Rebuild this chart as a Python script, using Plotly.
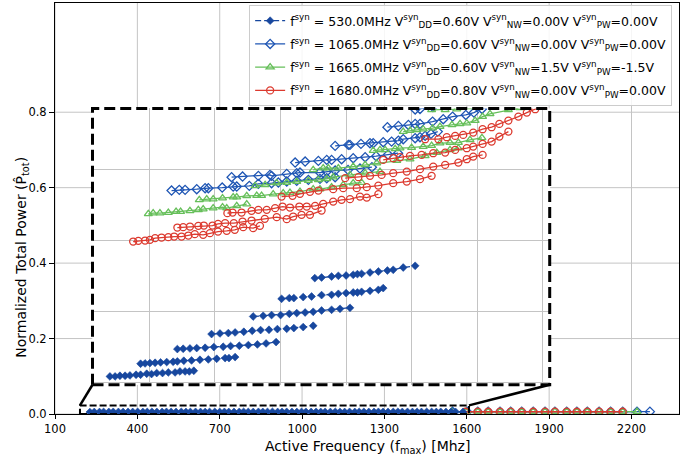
import plotly.graph_objects as go

# ---------------- data ----------------
legend_names = [
    "f<sup>syn</sup> = 530.0MHz V<sup>syn</sup><sub>DD</sub>=0.60V V<sup>syn</sup><sub>NW</sub>=0.00V V<sup>syn</sup><sub>PW</sub>=0.00V",
    "f<sup>syn</sup> = 1065.0MHz V<sup>syn</sup><sub>DD</sub>=0.60V V<sup>syn</sup><sub>NW</sub>=0.00V V<sup>syn</sup><sub>PW</sub>=0.00V",
    "f<sup>syn</sup> = 1665.0MHz V<sup>syn</sup><sub>DD</sub>=0.60V V<sup>syn</sup><sub>NW</sub>=1.5V V<sup>syn</sup><sub>PW</sub>=-1.5V",
    "f<sup>syn</sup> = 1680.0MHz V<sup>syn</sup><sub>DD</sub>=0.80V V<sup>syn</sup><sub>NW</sub>=0.00V V<sup>syn</sup><sub>PW</sub>=0.00V",
]
x_title = "Active Frequency (f<sub>max</sub>) [Mhz]"
y_title = "Normalized Total Power (P\u0302<sub>tot</sub>)"

x_ticks = [100, 400, 700, 1000, 1300, 1600, 1900, 2200]
y_ticks = [0.0, 0.2, 0.4, 0.6, 0.8]

# main-axes data (all close to zero)
main_s1_x = [227, 243, 262, 277, 296, 312, 331, 348, 366, 383, 401, 420, 436, 453, 471, 490, 506, 523, 541, 560,
             577, 593, 612, 630, 647, 663, 682, 700, 717, 733, 752, 771, 787, 804, 822, 841, 857, 874, 892, 911,
             927, 944, 963, 981, 998, 1014, 1033, 1051, 1068, 1084, 1103, 1121, 1138, 1155, 1173, 1192, 1208, 1225,
             1243, 1262, 1278, 1295, 1313, 1332, 1349, 1365, 1384, 1402, 1419, 1435, 1454, 1472, 1489, 1505, 1524,
             1543, 1559, 1586]
main_s1_y = [0.0052, 0.0054, 0.0053, 0.0056, 0.0054, 0.0057, 0.0055, 0.0053, 0.0056, 0.0055, 0.0057, 0.0054,
             0.0056, 0.0058, 0.0055, 0.0054, 0.0057, 0.0056, 0.0055, 0.0058, 0.0054, 0.0056, 0.0057, 0.0055,
             0.0053, 0.0056, 0.0058, 0.0055, 0.0057, 0.0054, 0.0056, 0.0055, 0.0058, 0.0056, 0.0054, 0.0057,
             0.0055, 0.0056, 0.0058, 0.0054, 0.0056, 0.0057, 0.0055, 0.0053, 0.0056, 0.0058, 0.0055, 0.0057,
             0.0054, 0.0056, 0.0055, 0.0058, 0.0056, 0.0054, 0.0057, 0.0055, 0.0056, 0.0058, 0.0054, 0.0056,
             0.0057, 0.0055, 0.0053, 0.0056, 0.0058, 0.0055, 0.0057, 0.0054, 0.0056, 0.0055, 0.0058, 0.0056,
             0.0054, 0.0057, 0.0055, 0.0056, 0.0057, 0.0055]
main_s2_x = [1548, 1601, 1640, 1678, 1721, 1760, 1800, 1842, 1885, 1921, 1964, 2001, 2039, 2082, 2124, 2168, 2220, 2267]
main_s2_y = [0.0058, 0.0060, 0.0061, 0.0060, 0.0061, 0.0062, 0.0061, 0.0060, 0.0061, 0.0062, 0.0061, 0.0060,
             0.0061, 0.0062, 0.0061, 0.0060, 0.0061, 0.0062]
main_s3_x = [1545, 1598, 1640, 1678, 1721, 1760, 1800, 1842, 1885, 1921, 1964, 2001, 2039, 2082, 2124, 2168, 2220]
main_s3_y = [0.0060, 0.0062, 0.0064, 0.0063, 0.0064, 0.0065, 0.0064, 0.0063, 0.0064, 0.0065, 0.0064, 0.0063,
             0.0064, 0.0065, 0.0064, 0.0063, 0.0064]
main_s4_x = [1595, 1640, 1678, 1721, 1760, 1800, 1842, 1885, 1921, 1964, 2001, 2039, 2082, 2124, 2168]
main_s4_y = [0.0060, 0.0061, 0.0060, 0.0061, 0.0062, 0.0061, 0.0060, 0.0061, 0.0062, 0.0061, 0.0060, 0.0061,
             0.0062, 0.0061, 0.0060]

# inset data: each series is drawn as several strands
s1_x = [
    [245, 261, 276, 292, 307, 326, 340, 359, 374, 390, 408, 426, 447, 462, 478, 491, 505],
    [340, 354, 369, 385, 402, 421, 441, 454, 474, 498, 524, 550, 576, 602, 614, 633],
    [454, 472, 493, 514, 540, 567, 596, 619, 646, 674, 702, 729, 760],
    [560, 586, 612, 633, 660, 686, 712, 738, 764, 793, 815, 844, 875],
    [689, 720, 746, 774, 801, 824, 850, 875, 901, 932, 958, 989],
    [777, 801, 815, 844, 870, 901, 932, 953, 977, 999, 1012, 1025, 1051, 1077, 1092],
    [880, 901, 932, 953, 977, 999, 1012, 1025, 1051, 1077, 1105, 1123, 1154, 1191],
]
s1_y = [
    [0.00083, 0.00083, 0.0009, 0.0009, 0.00093, 0.0010, 0.0010, 0.0011, 0.00107, 0.00117, 0.00117, 0.00123,
     0.00123, 0.00133, 0.00133, 0.00133, 0.0014],
    [0.0021, 0.00213, 0.00217, 0.0022, 0.00223, 0.00227, 0.0023, 0.00233, 0.0024, 0.00243, 0.0025, 0.00253,
     0.0026, 0.00267, 0.00267, 0.00277],
    [0.00357, 0.0036, 0.00363, 0.00367, 0.0037, 0.00377, 0.0038, 0.00387, 0.0039, 0.00397, 0.00403, 0.00413, 0.00427],
    [0.00507, 0.00513, 0.00517, 0.00523, 0.0053, 0.0054, 0.00547, 0.0055, 0.00557, 0.0056, 0.00567, 0.00577, 0.0059],
    [0.00683, 0.0069, 0.00697, 0.00697, 0.0071, 0.00717, 0.00723, 0.0073, 0.00743, 0.0075, 0.0076, 0.0077],
    [0.0086, 0.00867, 0.00867, 0.00877, 0.00883, 0.00897, 0.009, 0.0091, 0.00917, 0.00923, 0.00923, 0.0093,
     0.0094, 0.0095, 0.00967],
    [0.01067, 0.01073, 0.01083, 0.0109, 0.01093, 0.011, 0.01107, 0.0111, 0.01123, 0.01133, 0.01143, 0.0115,
     0.01173, 0.0119],
]
s2_x = [
    [436, 460, 478, 514, 540, 550, 593, 627, 638, 677, 705, 746, 767, 793, 824, 860, 896, 917, 943],
    [622, 656, 705, 741, 746, 793, 824, 834, 896, 917, 943, 983, 1020, 1057],
    [819, 850, 891, 917, 932, 963, 999, 1036, 1070, 1107, 1138],
    [943, 984, 989, 1023, 1051, 1061, 1092, 1118, 1139, 1154, 1191, 1206, 1222, 1240, 1261],
    [1105, 1139, 1170, 1191, 1206, 1245, 1278, 1307, 1348, 1373, 1398, 1423],
    [1191, 1206, 1246, 1287],
]
s2_y = [
    [0.01943, 0.0195, 0.0195, 0.01957, 0.01967, 0.01967, 0.01973, 0.01983, 0.01983, 0.0199, 0.0201, 0.02017,
     0.02023, 0.02033, 0.0204, 0.0205, 0.0206, 0.02067, 0.02077],
    [0.02077, 0.02083, 0.0209, 0.021, 0.0209, 0.0211, 0.02117, 0.02123, 0.02123, 0.02133, 0.02143, 0.0215,
     0.02163, 0.02177],
    [0.02223, 0.02233, 0.0224, 0.0225, 0.0225, 0.02257, 0.02267, 0.02277, 0.02287, 0.02303, 0.02317],
    [0.0239, 0.024, 0.024, 0.0241, 0.02417, 0.02417, 0.02427, 0.02433, 0.02443, 0.02457, 0.02467, 0.02477,
     0.0249, 0.0251, 0.02533],
    [0.02577, 0.0259, 0.026, 0.0261, 0.0261, 0.02633, 0.02657, 0.02683, 0.027, 0.02723, 0.0276, 0.028],
    [0.02755, 0.0276, 0.0278, 0.028],
]
s3_x = [
    [364, 379, 400, 426, 450, 464, 493, 519, 534, 565, 594, 607, 638, 669],
    [522, 545, 565, 594, 627, 638, 669, 700, 715, 751, 782, 803, 834, 875, 896, 932, 968, 999, 1025],
    [695, 726, 762, 793, 824, 860, 891, 917, 937, 989, 1036, 1082],
    [875, 906, 922, 953, 999, 1036, 1072, 1134, 1175, 1222, 1258, 1299, 1325],
    [1061, 1082, 1098, 1129, 1144, 1180, 1216, 1242, 1268, 1299, 1325, 1361, 1398],
    [1154, 1175, 1196, 1216, 1245, 1268, 1305, 1330, 1351, 1377, 1400, 1423, 1480, 1516],
    [1242, 1284, 1320, 1361],
]
s3_y = [
    [0.0171, 0.01717, 0.01717, 0.01723, 0.01733, 0.01733, 0.0174, 0.0175, 0.01757, 0.01767, 0.01777, 0.01767,
     0.0179, 0.01807],
    [0.0185, 0.01857, 0.01857, 0.01867, 0.01877, 0.01877, 0.0189, 0.01893, 0.01893, 0.01907, 0.01917, 0.01923,
     0.01933, 0.01957, 0.01957, 0.01977, 0.02, 0.02017, 0.02023],
    [0.0199, 0.02, 0.02017, 0.02023, 0.02033, 0.02043, 0.0205, 0.0206, 0.02077, 0.021, 0.02117, 0.02133],
    [0.0215, 0.02167, 0.02167, 0.02167, 0.02183, 0.022, 0.02217, 0.02243, 0.02257, 0.0229, 0.02323, 0.0235, 0.02367],
    [0.02343, 0.0235, 0.0235, 0.0236, 0.02367, 0.02373, 0.02383, 0.02393, 0.02417, 0.02423, 0.02423, 0.0245, 0.0247],
    [0.02533, 0.02543, 0.0255, 0.02557, 0.02567, 0.02583, 0.026, 0.0261, 0.02617, 0.02643, 0.02683, 0.0271,
     0.0275, 0.0277],
    [0.0275, 0.0275, 0.02757, 0.0278],
]
s4_x = [
    [317, 333, 354, 369, 385, 405, 426, 444, 467, 488, 508, 534, 555, 580, 607, 632, 658, 689, 710],
    [454, 472, 493, 519, 536, 563, 580, 602, 629, 656, 684, 725, 762, 793, 813, 839, 865, 901],
    [609, 625, 653, 684, 705, 731, 757, 780, 803, 832, 855, 881, 906, 937, 963, 989, 1020, 1041, 1077],
    [777, 811, 834, 865, 891, 937, 968, 1010, 1041, 1077, 1123, 1165, 1206, 1242],
    [974, 1015, 1051, 1087, 1123, 1165, 1206, 1247, 1284, 1325, 1351, 1371, 1400],
    [1092, 1123, 1144, 1175, 1211, 1247, 1284, 1315, 1351, 1371, 1400, 1428, 1452, 1480],
    [1222, 1263, 1289, 1315, 1340, 1371, 1400, 1428, 1452, 1480, 1511, 1537, 1563, 1594],
]
s4_y = [
    [0.01433, 0.0144, 0.01443, 0.0145, 0.01467, 0.01473, 0.01477, 0.01483, 0.01483, 0.01493, 0.01507, 0.015,
     0.01517, 0.01533, 0.0154, 0.0155, 0.01577, 0.01567, 0.0159],
    [0.01573, 0.01577, 0.01583, 0.0159, 0.01593, 0.01593, 0.0161, 0.01617, 0.01617, 0.01633, 0.01643, 0.0166,
     0.01677, 0.01657, 0.01683, 0.017, 0.017, 0.01743],
    [0.01717, 0.01723, 0.01723, 0.0174, 0.0175, 0.0175, 0.01767, 0.01783, 0.01773, 0.01783, 0.01783, 0.0179,
     0.0181, 0.01833, 0.0185, 0.01857, 0.01883, 0.01873, 0.01907],
    [0.01883, 0.0189, 0.0191, 0.0193, 0.01943, 0.01957, 0.01967, 0.01967, 0.01977, 0.01993, 0.02017, 0.02033,
     0.02057, 0.0209],
    [0.02067, 0.02077, 0.0209, 0.021, 0.02117, 0.02133, 0.02157, 0.02183, 0.022, 0.02223, 0.02257, 0.02283, 0.023],
    [0.0225, 0.02267, 0.02277, 0.0229, 0.023, 0.02317, 0.02323, 0.0235, 0.02367, 0.02383, 0.0241, 0.02433,
     0.02483, 0.02533],
    [0.02457, 0.02457, 0.02477, 0.0249, 0.025, 0.02523, 0.02557, 0.02577, 0.0261, 0.02643, 0.02683, 0.02723,
     0.02757, 0.028],
]

# ---------------- layout constants ----------------
X_RANGE = [100, 2373]
Y_RANGE = [0, 1.0895]
INSET_X = [191, 1608]
INSET_Y = [0, 0.02765]
ZOOM_TOP = 0.0228            # top of the zoom rectangle in main-axes units
INSET_DOM_X = [0.0601, 0.7928]
INSET_DOM_Y = [0.0712, 0.7435]
FONT = "DejaVu Sans"
GRID = "#c4c4c4"

colors = ["#17479e", "#1f56b4", "#66bf5a", "#dc3a2f"]
symbols = ["diamond", "diamond-open", "triangle-up-open", "circle-open"]
msizes = [6, 7, 7, 7]
dashes = ["6px,3px", "solid", "solid", "solid"]


def join(strands):
    out = []
    for i, s in enumerate(strands):
        if i:
            out.append(None)
        out.extend(s)
    return out


def style(i):
    return dict(
        line=dict(color=colors[i], width=1.3, dash=dashes[i]),
        marker=dict(symbol=symbols[i], size=msizes[i], color=colors[i],
                    line=dict(color=colors[i], width=1.3 if i else 0.6)),
    )


fig = go.Figure()

# main axes traces (filled series drawn last so it lies on top)
main_data = [(main_s1_x, main_s1_y), (main_s2_x, main_s2_y), (main_s3_x, main_s3_y), (main_s4_x, main_s4_y)]
for i in [1, 2, 3, 0]:
    fig.add_trace(go.Scatter(x=main_data[i][0], y=main_data[i][1], mode="lines+markers",
                             xaxis="x", yaxis="y", showlegend=False, hoverinfo="skip", **style(i)))

inset_data = [(s1_x, s1_y), (s2_x, s2_y), (s3_x, s3_y), (s4_x, s4_y)]
for i in range(4):
    fig.add_trace(go.Scatter(x=join(inset_data[i][0]), y=join(inset_data[i][1]), mode="lines+markers",
                             connectgaps=False, xaxis="x2", yaxis="y2", name=legend_names[i],
                             legendgroup="g%d" % i, showlegend=True, **style(i)))


def px_x(v):
    return (v - X_RANGE[0]) / (X_RANGE[1] - X_RANGE[0])


def px_y(v):
    return (v - Y_RANGE[0]) / (Y_RANGE[1] - Y_RANGE[0])


shapes = []
# main grid drawn as lower-layer shapes so the inset background can hide it
for v in x_ticks:
    shapes.append(dict(type="line", xref="x", yref="paper", x0=v, x1=v, y0=0, y1=1,
                       line=dict(color=GRID, width=1), layer="below"))
for v in y_ticks:
    shapes.append(dict(type="line", xref="paper", yref="y", x0=0, x1=1, y0=v, y1=v,
                       line=dict(color=GRID, width=1), layer="below"))
# white background of the inset (covers main grid)
shapes.append(dict(type="rect", xref="paper", yref="paper", x0=INSET_DOM_X[0], x1=INSET_DOM_X[1],
                   y0=INSET_DOM_Y[0], y1=INSET_DOM_Y[1], fillcolor="white", line=dict(width=0), layer="below"))
# inset border
shapes.append(dict(type="rect", xref="paper", yref="paper", x0=INSET_DOM_X[0], x1=INSET_DOM_X[1],
                   y0=INSET_DOM_Y[0], y1=INSET_DOM_Y[1], line=dict(color="black", width=3, dash="11px,5px"),
                   layer="above"))
# zoom rectangle in main axes
shapes.append(dict(type="rect", xref="x", yref="y", x0=INSET_X[0], x1=INSET_X[1], y0=0, y1=ZOOM_TOP,
                   line=dict(color="black", width=2, dash="7px,3px"), layer="above"))
# connectors
shapes.append(dict(type="line", xref="paper", yref="paper", x0=px_x(INSET_X[0]), y0=px_y(ZOOM_TOP),
                   x1=INSET_DOM_X[0], y1=INSET_DOM_Y[0], line=dict(color="black", width=2.5), layer="above"))
shapes.append(dict(type="line", xref="paper", yref="paper", x0=px_x(INSET_X[1]), y0=px_y(ZOOM_TOP),
                   x1=INSET_DOM_X[1], y1=INSET_DOM_Y[0], line=dict(color="black", width=2.5), layer="above"))

annotations = [
    dict(text=x_title, xref="paper", yref="paper", x=0.5, y=-0.0535, xanchor="center", yanchor="top",
         showarrow=False, font=dict(family=FONT, size=14, color="black")),
    dict(text=y_title, xref="paper", yref="paper", x=-0.0534, y=0.382, xanchor="center", yanchor="middle",
         textangle=-90, showarrow=False, font=dict(family=FONT, size=14, color="black")),
]

fig.update_layout(
    width=694, height=458,
    margin=dict(l=55, r=15, t=3, b=44),
    paper_bgcolor="white", plot_bgcolor="white",
    font=dict(family=FONT, size=14, color="black"),
    showlegend=True,
    legend=dict(x=0.989, y=0.995, xanchor="right", yanchor="top",
                bgcolor="rgba(255,255,255,0.85)", bordercolor="#cccccc", borderwidth=1,
                font=dict(family=FONT, size=12.5), tracegroupgap=4, itemwidth=30),
    xaxis=dict(domain=[0, 1], range=X_RANGE, tickvals=x_ticks, showgrid=False,
               zeroline=False, showline=True, mirror=True, linecolor="black", linewidth=1,
               ticks="outside", ticklen=4, tickcolor="black", tickfont=dict(size=11.5)),
    yaxis=dict(domain=[0, 1], range=Y_RANGE, tickvals=y_ticks, tickformat=".1f", showgrid=False,
               zeroline=False, showline=True, mirror=True, linecolor="black",
               linewidth=1, ticks="outside", ticklen=5, tickcolor="black", tickfont=dict(size=11.5)),
    xaxis2=dict(domain=INSET_DOM_X, anchor="y2", range=INSET_X, showgrid=True, gridcolor=GRID, gridwidth=1,
                tick0=367, dtick=203.3, showticklabels=False, ticks="", zeroline=False, showline=False),
    yaxis2=dict(domain=INSET_DOM_Y, anchor="x2", range=INSET_Y, showgrid=True, gridcolor=GRID, gridwidth=1,
                tick0=0.00733, dtick=0.00709, showticklabels=False, ticks="", zeroline=False, showline=False),
    shapes=shapes,
    annotations=annotations,
)

fig.write_html("out.html")
